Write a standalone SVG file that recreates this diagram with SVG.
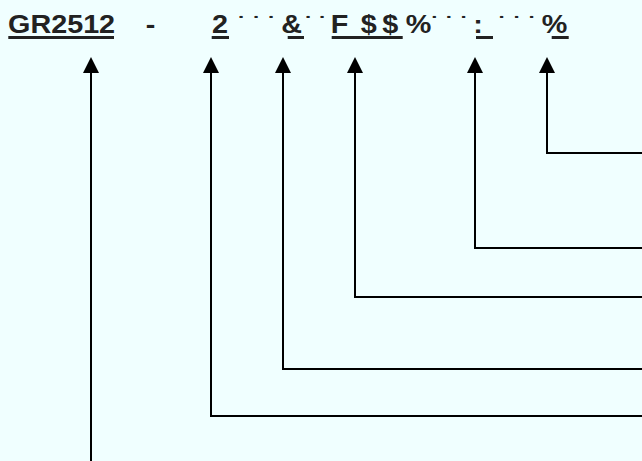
<svg xmlns="http://www.w3.org/2000/svg" width="642" height="461" viewBox="0 0 642 461">
<style>
.t{font-family:"Liberation Sans",Arial,sans-serif;font-weight:bold;font-size:25px;fill:#222}
.d{font-family:"Liberation Sans",Arial,sans-serif;font-weight:bold;font-size:20px;fill:#222;text-anchor:middle}
.u{fill:#222}
.c{fill:none;stroke:#000;stroke-width:2}
</style>
<defs>
<marker id="ah" markerUnits="userSpaceOnUse" viewBox="0 0 16 16" markerWidth="16" markerHeight="16" refX="0" refY="8" orient="auto">
<path d="M0,0 L16,8 L0,16 Z" fill="#000"/>
</marker>
</defs>
<rect width="642" height="461" fill="#F0FFFF"/>
<g id="label">
<g transform="scale(1.15,1)">
<text class="t" x="7" y="33">GR2512</text>
<text class="t" x="126.7" y="33">-</text>
<text class="t" x="184.4" y="33">2</text>
<text class="d" x="209.6" y="31">˙</text>
<text class="d" x="222.6" y="31">˙</text>
<text class="d" x="235.7" y="31">˙</text>
<text class="t" x="244.6" y="33">&amp;</text>
<text class="d" x="267.8" y="31">˙</text>
<text class="d" x="280" y="31">˙</text>
<text class="t" x="287.7" y="33">F</text>
<text class="t" x="313.7" y="33">$</text>
<text class="t" x="332.3" y="33">$</text>
<text class="t" x="352.9" y="33">%</text>
<text class="d" x="377.8" y="31">˙</text>
<text class="d" x="390.3" y="31">˙</text>
<text class="d" x="403.2" y="31">˙</text>
<text class="t" x="411.6" y="33">:</text>
<text class="d" x="436.2" y="31">˙</text>
<text class="d" x="449.3" y="31">˙</text>
<text class="d" x="462.3" y="31">˙</text>
<text class="t" x="471.1" y="33">%</text>
</g>
<rect class="u" x="8.3" y="36" width="105.7" height="3"/>
<rect class="u" x="211.7" y="36" width="17.3" height="3"/>
<rect class="u" x="287.7" y="36" width="16.3" height="3"/>
<rect class="u" x="331.7" y="36" width="71" height="3"/>
<rect class="u" x="476" y="36" width="17" height="3"/>
<rect class="u" x="551.7" y="36" width="17" height="3"/>
</g>
<g id="connectors">
<path class="c" d="M91,461 V73" marker-end="url(#ah)"/>
<path class="c" d="M642,416 H211 V73" marker-end="url(#ah)"/>
<path class="c" d="M642,369 H283 V73" marker-end="url(#ah)"/>
<path class="c" d="M642,297 H355 V73" marker-end="url(#ah)"/>
<path class="c" d="M642,248 H475 V73" marker-end="url(#ah)"/>
<path class="c" d="M642,153 H547 V73" marker-end="url(#ah)"/>
</g>
</svg>
